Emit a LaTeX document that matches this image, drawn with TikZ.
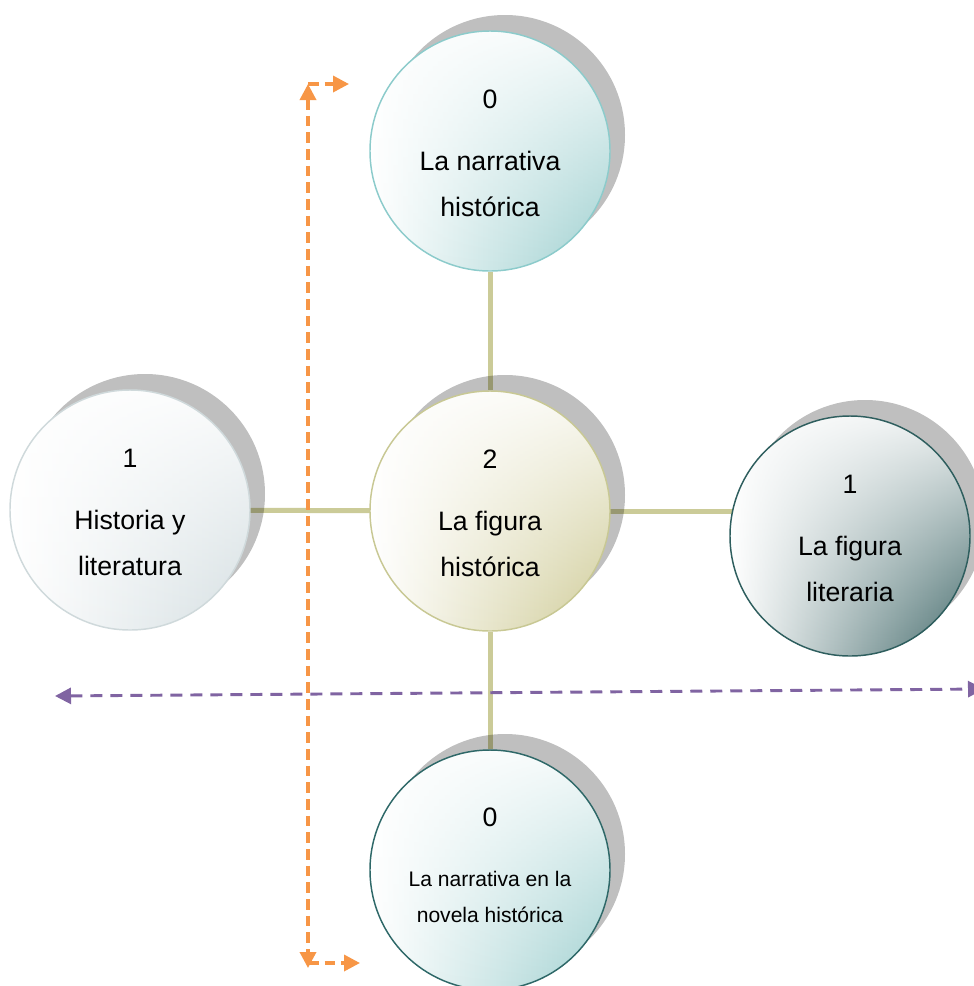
\documentclass[tikz,border=0pt]{standalone}
\usepackage{fontspec}
\setmainfont{Liberation Sans}
\usetikzlibrary{shadows,fadings,arrows.meta,backgrounds}

% palette
\definecolor{linkolive}{HTML}{CBCB98}
\definecolor{dashorange}{HTML}{F79646}
\definecolor{dashpurple}{HTML}{8064A2}
\definecolor{topline}{HTML}{8CCBCB}
\definecolor{toptint}{HTML}{9CCFCF}
\definecolor{figline}{HTML}{C8C894}
\definecolor{figtint}{HTML}{CFCB96}
\definecolor{histline}{HTML}{CFD9DB}
\definecolor{histtint}{HTML}{D5DFE2}
\definecolor{litline}{HTML}{2E5E5E}
\definecolor{littint}{HTML}{42696A}
\definecolor{novline}{HTML}{2E6868}
\definecolor{novtint}{HTML}{9FD0D0}

% white wash that is strong at the top and vanishes at the bottom
\tikzfading[name=topwash, top color=transparent!10, middle color=transparent!45, bottom color=transparent!100]

\tikzset{
  bubble/.style 2 args={circle, minimum size=180pt, inner sep=0pt,
    draw=#1, line width=1.1pt,
    left color=white, middle color=white!70!#2, right color=#2,
    path picture={\fill[white, path fading=topwash]
      (path picture bounding box.south west) rectangle (path picture bounding box.north east);},
    drop shadow={shadow xshift=11.25pt, shadow yshift=12pt, fill=black, opacity=0.25},
    align=center, text=black, font=\fontsize{20}{34.5}\selectfont},
  link/.style={draw=linkolive, line width=3.75pt},
  orangedash/.style={draw=dashorange, line width=2.6pt, dash pattern=on 8pt off 4.5pt,
    >={Triangle[length=12pt, width=12pt]}},
  purpledash/.style={draw=dashpurple, line width=2.2pt, dash pattern=on 9pt off 6pt,
    >={Triangle[length=12pt, width=12pt]}},
}

\begin{document}
\begin{tikzpicture}[x=0.75pt, y=-0.75pt]
\useasboundingbox (0,0) rectangle (974,986);
\clip (0,0) rectangle (974,986);

% topic circles
\node[bubble={topline}{toptint}] (narr) at (490,151)
  {\rule{0pt}{18pt}0\\[12pt]La narrativa\\histórica};
\node[bubble={figline}{figtint}] (fig) at (490,511)
  {\rule{0pt}{18pt}2\\[12pt]La figura\\histórica};
\node[bubble={histline}{histtint}] (hist) at (130,510)
  {\rule{0pt}{18pt}1\\[12pt]Historia y\\literatura};
\node[bubble={litline}{littint}] (lit) at (850,536)
  {\rule{0pt}{18pt}1\\[12pt]La figura\\literaria};
\node[bubble={novline}{novtint}, font=\fontsize{15.8}{27}\selectfont] (nov) at (490,870)
  {{\fontsize{20}{27}\selectfont 0}\\[18pt]La narrativa en la\\novela histórica\rule[-7.5pt]{0pt}{0pt}};

% spokes from the central circle, kept beneath the circles
\begin{pgfonlayer}{background}
  \draw[link] (narr) -- (fig);
  \draw[link] (fig) -- (nov);
  \draw[link] (hist.center) -- (fig.center);
  \draw[link] (fig.center) -- (fig.center -| lit.center);
\end{pgfonlayer}

% dashed axes
\coordinate (otop) at (308,84);
\coordinate (otopr) at (349,84);
\coordinate (obot) at (308,968);
\coordinate (obotc) at (308,963);
\coordinate (obotr) at (360,963);
\draw[orangedash, <->] (otop) -- (obot);
\draw[orangedash, ->] (otop) -- (otopr);
\draw[orangedash, ->] (obotc) -- (obotr);

\coordinate (pl) at (55,696);
\coordinate (pr) at (984,689);
\draw[purpledash, <->] (pl) -- (pr);
\end{tikzpicture}
\end{document}
